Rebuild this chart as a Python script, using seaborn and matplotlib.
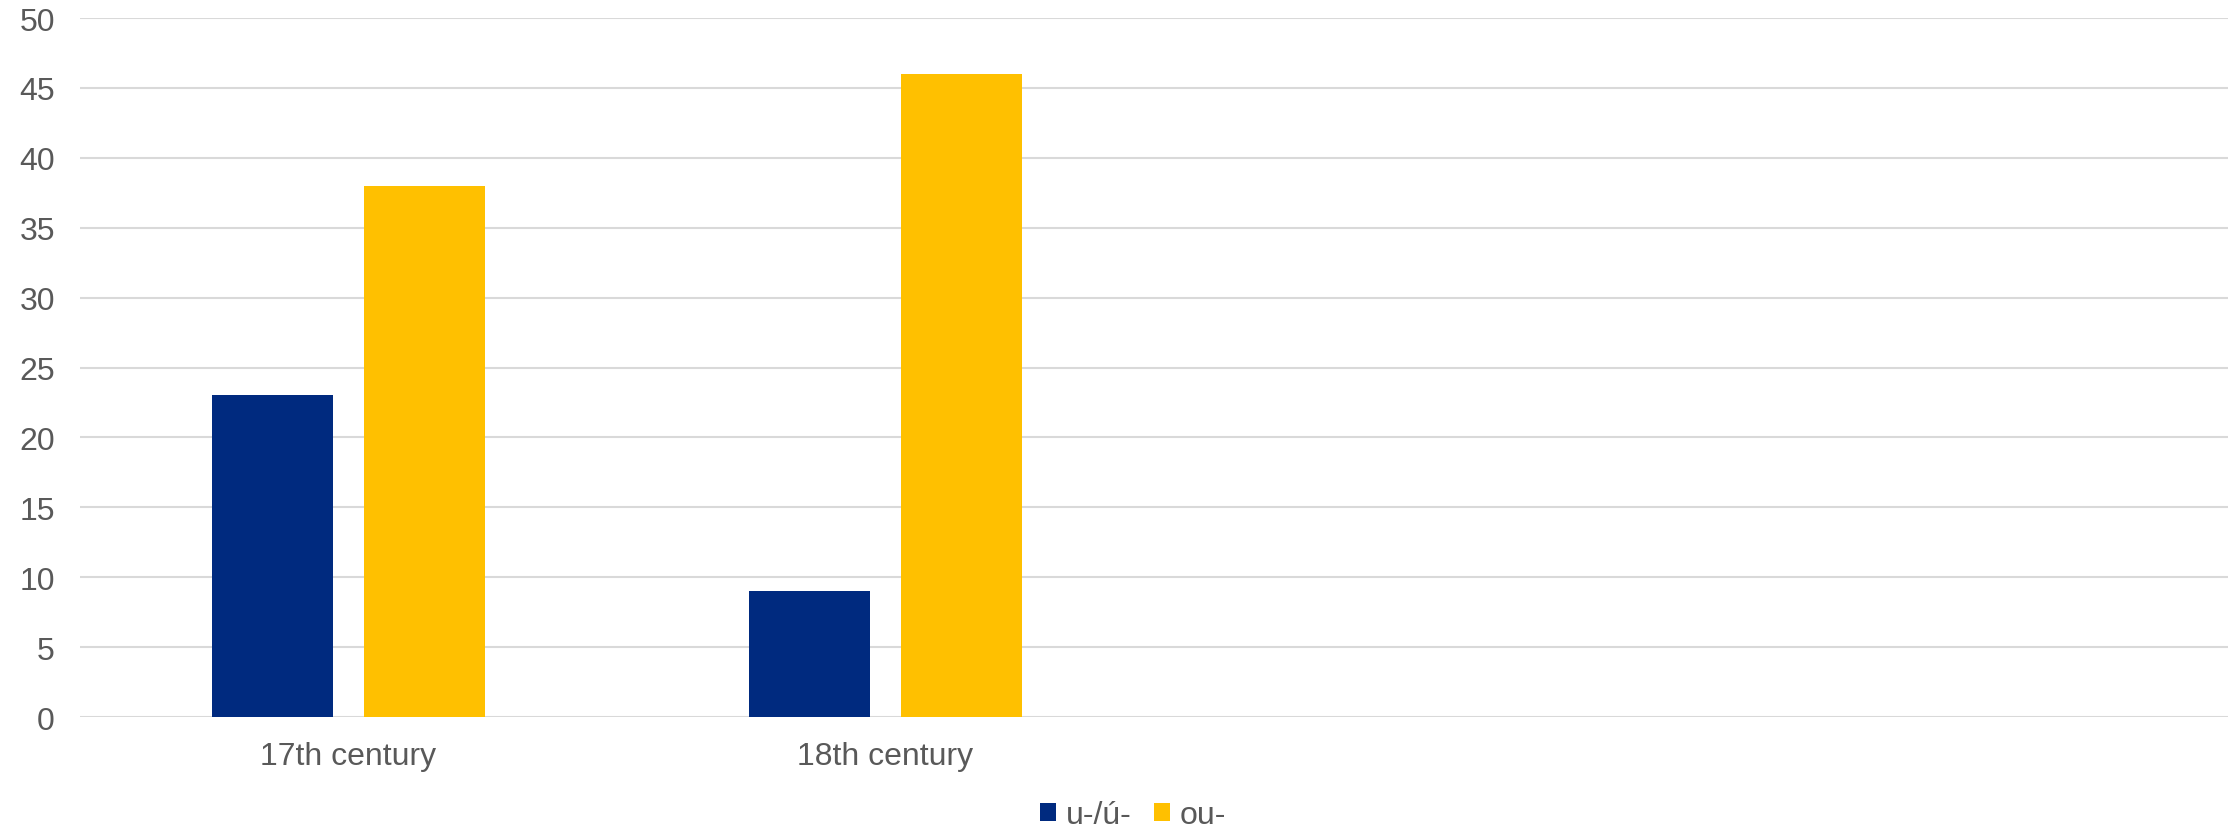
import matplotlib
matplotlib.use("Agg")
import matplotlib.pyplot as plt
import seaborn as sns
import pandas as pd

categories = ["17th century", "18th century", " ", "  "]
series_names = ["u-/ú-", "ou-"]
u_values = [23, 9]
ou_values = [38, 46]
y_ticks = [0, 5, 10, 15, 20, 25, 30, 35, 40, 45, 50]

colors = {"u-/ú-": "#002A7F", "ou-": "#FFC000"}
text_color = "#595959"
grid_color = "#D9D9D9"

rows = []
for cat, v in zip(categories[:2], u_values):
    rows.append({"category": cat, "series": series_names[0], "value": v})
for cat, v in zip(categories[:2], ou_values):
    rows.append({"category": cat, "series": series_names[1], "value": v})
df = pd.DataFrame(rows)

sns.set_theme(style="white")
plt.rcParams["font.family"] = ["Liberation Sans", "DejaVu Sans"]

fig = plt.figure(figsize=(22.34, 8.29), dpi=100)
ax = fig.add_axes([80 / 2234, 1 - 718 / 829, (2228 - 80) / 2234, (718 - 19) / 829])

sns.barplot(data=df, x="category", y="value", hue="series", order=categories,
            hue_order=series_names, palette=colors, width=0.566, gap=0.21,
            saturation=1, errorbar=None, ax=ax, linewidth=0)

ax.set_xlim(-0.5, len(categories) - 0.5)
ax.set_ylim(0, 50)
ax.set_yticks(y_ticks)
ax.set_yticklabels([str(t) for t in y_ticks])
ax.set_xticks(range(len(categories)))
ax.set_xticklabels(categories)
ax.set_xlabel("")
ax.set_ylabel("")
ax.grid(axis="y", color=grid_color, linewidth=1.5)
ax.set_axisbelow(True)
for s in ax.spines.values():
    s.set_visible(False)
ax.tick_params(axis="y", length=0, pad=18, labelsize=23, labelcolor=text_color)
ax.tick_params(axis="x", length=0, pad=17, labelsize=23, labelcolor=text_color)

sns.move_legend(ax, "center", bbox_to_anchor=(1133 / 2234, 1 - 816 / 829),
                bbox_transform=fig.transFigure, ncol=2, frameon=False,
                title=None, fontsize=23, handlelength=0.5, handleheight=0.5,
                handletextpad=0.3, columnspacing=0.7, borderpad=0,
                labelcolor=text_color)

fig.savefig("out.png", dpi=100)
